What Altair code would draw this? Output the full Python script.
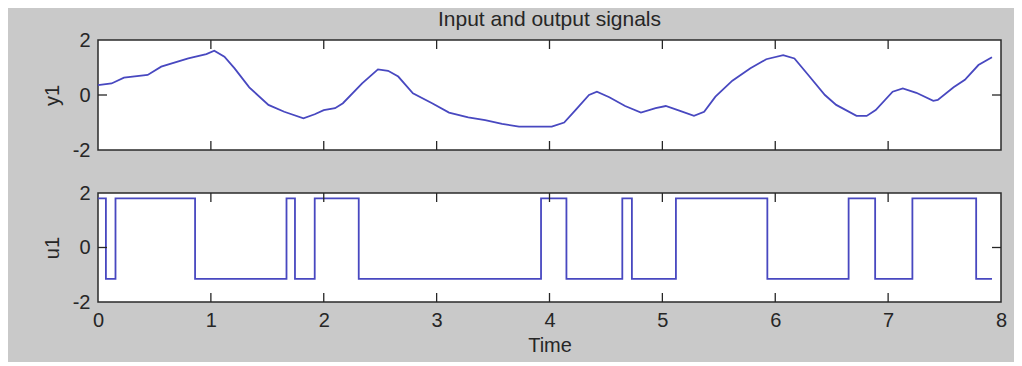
import altair as alt
import pandas as pd

# ---- data ----
y1_time = [0.0, 0.12, 0.23, 0.44, 0.56, 0.80, 0.96, 1.03, 1.12, 1.21, 1.34, 1.51, 1.65,
           1.82, 1.92, 2.00, 2.10, 2.17, 2.34, 2.48, 2.57, 2.66, 2.79, 2.96, 3.11, 3.28,
           3.43, 3.58, 3.73, 4.02, 4.13, 4.23, 4.35, 4.42, 4.53, 4.67, 4.81, 4.94, 5.03,
           5.15, 5.28, 5.37, 5.47, 5.62, 5.78, 5.92, 6.07, 6.17, 6.30, 6.44, 6.54, 6.72,
           6.81, 6.89, 7.04, 7.13, 7.25, 7.40, 7.44, 7.58, 7.68, 7.80, 7.92]
y1_vals = [0.36, 0.42, 0.63, 0.73, 1.03, 1.33, 1.49, 1.61, 1.39, 0.97, 0.28, -0.36, -0.61,
           -0.85, -0.70, -0.55, -0.48, -0.30, 0.42, 0.93, 0.88, 0.67, 0.06, -0.30, -0.64, -0.81,
           -0.91, -1.05, -1.15, -1.15, -1.00, -0.55, 0.00, 0.12, -0.08, -0.40, -0.64, -0.48, -0.40,
           -0.57, -0.76, -0.61, -0.06, 0.52, 0.97, 1.30, 1.45, 1.33, 0.69, 0.00, -0.36, -0.76,
           -0.76, -0.55, 0.12, 0.24, 0.08, -0.21, -0.18, 0.28, 0.55, 1.09, 1.37]

u1_time = [0.0, 0.07, 0.155, 0.86, 1.67, 1.745, 1.92, 2.31, 3.925, 4.15, 4.645, 4.73,
           5.12, 5.93, 6.65, 6.885, 7.215, 7.78, 7.92]
u1_vals = [1.8, -1.15, 1.8, -1.15, 1.8, -1.15, 1.8, -1.15, 1.8, -1.15, 1.8, -1.15,
           1.8, -1.15, 1.8, -1.15, 1.8, -1.15, -1.15]

x_ticks = [0, 1, 2, 3, 4, 5, 6, 7, 8]
x_inner_ticks = [1, 2, 3, 4, 5, 6, 7]
y_ticks = [-2, 0, 2]
y_inner_ticks = [0]

title_text = "Input and output signals"
x_title = "Time"

# ---- styling ----
FONT = "Liberation Sans"
LINE = "#4848c0"
INK = "#262626"
W, H_TOP, H_BOT = 903, 110, 109
TICK = 9

y1_df = pd.DataFrame({"t": y1_time, "v": y1_vals})
u1_df = pd.DataFrame({"t": u1_time, "v": u1_vals})
xt_df = pd.DataFrame({"t": x_inner_ticks})
yt_df = pd.DataFrame({"v": y_inner_ticks})

xscale = alt.Scale(domain=[0, 8], nice=False, zero=False)
yscale = alt.Scale(domain=[-2, 2], nice=False, zero=False)


def yaxis(title):
    return alt.Axis(values=y_ticks, title=title, ticks=False, tickSize=0, domain=False,
                    grid=False, labelExpr="'' + datum.value", labelFlush=False,
                    labelFont=FONT, labelFontSize=20, labelColor=INK,
                    labelPadding=8, titleFont=FONT, titleFontSize=20,
                    titleFontWeight="normal", titleColor=INK, titlePadding=10)


def xaxis():
    return alt.Axis(values=x_ticks, title=x_title, ticks=False, tickSize=0, domain=False,
                    grid=False, labelExpr="'' + datum.value", labelFlush=False,
                    labelFont=FONT, labelFontSize=20, labelColor=INK,
                    labelPadding=8, titleFont=FONT, titleFontSize=20,
                    titleFontWeight="normal", titleColor=INK, titlePadding=5)


def panel(df, ytitle, h, step, show_x, title=None):
    xax = xaxis() if show_x else None
    yax = yaxis(ytitle)
    line = alt.Chart(df).mark_line(
        color=LINE, strokeWidth=1.8, interpolate="step-after" if step else "linear"
    ).encode(
        x=alt.X("t:Q", scale=xscale, axis=xax),
        y=alt.Y("v:Q", scale=yscale, axis=yax),
    )
    tick_top = alt.Chart(xt_df).mark_rule(color=INK, strokeWidth=1.3).encode(
        x=alt.X("t:Q", scale=xscale, axis=xax), y=alt.value(0), y2=alt.value(TICK))
    tick_bot = alt.Chart(xt_df).mark_rule(color=INK, strokeWidth=1.3).encode(
        x=alt.X("t:Q", scale=xscale, axis=xax), y=alt.value(h), y2=alt.value(h - TICK))
    tick_l = alt.Chart(yt_df).mark_rule(color=INK, strokeWidth=1.3).encode(
        y=alt.Y("v:Q", scale=yscale, axis=yax), x=alt.value(0), x2=alt.value(TICK))
    tick_r = alt.Chart(yt_df).mark_rule(color=INK, strokeWidth=1.3).encode(
        y=alt.Y("v:Q", scale=yscale, axis=yax), x=alt.value(W - TICK), x2=alt.value(W))
    layer = alt.layer(line, tick_top, tick_bot, tick_l, tick_r).properties(width=W, height=h)
    if title is not None:
        layer = layer.properties(title=alt.TitleParams(
            title, font=FONT, fontSize=21, fontWeight="normal", color=INK,
            anchor="middle", frame="group", offset=0))
    return layer


top = panel(y1_df, "y1", H_TOP, False, False, title=title_text)
bot = panel(u1_df, "u1", H_BOT, True, True)

chart = alt.vconcat(top, bot, spacing=21).properties(
    background="#c9c9c9",
    padding={"left": 33, "top": 0, "right": 6, "bottom": 6},
).configure_view(
    fill="white", stroke="#2a2a2a", strokeWidth=1.5
)

chart.save("out.html", embed_options={"renderer": "svg", "actions": False})
